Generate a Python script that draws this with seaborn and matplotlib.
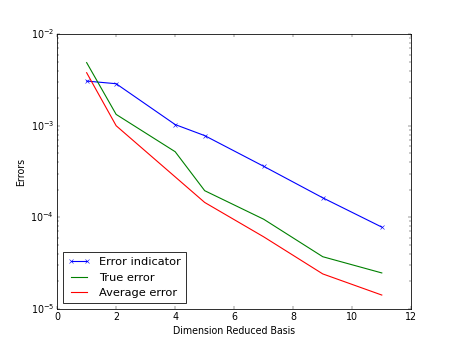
import numpy as np
import pandas as pd
import seaborn as sns
import matplotlib
matplotlib.use("Agg")
import matplotlib.pyplot as plt

dims = [1, 2, 4, 5, 7, 9, 11]
error_indicator = [3.08e-3, 2.88e-3, 1.03e-3, 7.8e-4, 3.6e-4, 1.63e-4, 7.8e-5]
true_error = [4.9e-3, 1.33e-3, 5.2e-4, 1.95e-4, 9.5e-5, 3.7e-5, 2.46e-5]
average_error = [3.8e-3, 1.0e-3, 2.76e-4, 1.45e-4, 6.1e-5, 2.4e-5, 1.41e-5]

plt.style.use('classic')

fig, ax = plt.subplots(figsize=(8, 6.005), dpi=57.125)
fig.patch.set_facecolor('white')

sns.lineplot(x=dims, y=error_indicator, color='b', marker='x', mec='b',
             lw=1.4, label='Error indicator', ax=ax)
sns.lineplot(x=dims, y=true_error, color='g', lw=1.4, label='True error', ax=ax)
sns.lineplot(x=dims, y=average_error, color='r', lw=1.4, label='Average error', ax=ax)

ax.set_yscale('log')
ax.set_xlim(0, 12)
ax.set_ylim(1e-5, 1e-2)
ax.set_xlabel('Dimension Reduced Basis')
ax.set_ylabel('Errors')
ax.legend(loc='lower left', numpoints=2)

plt.savefig('out.png', dpi=57.125, facecolor='white')
